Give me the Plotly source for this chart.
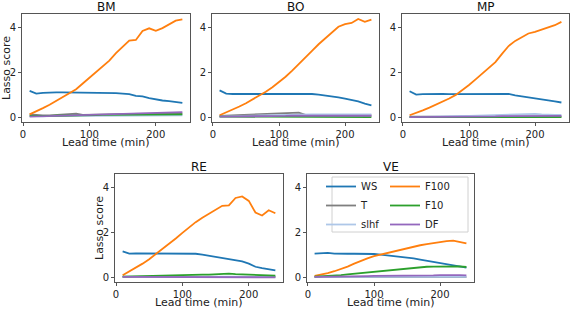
import plotly.graph_objects as go

lead_time = [10, 20, 30, 40, 50, 60, 70, 80, 90, 100, 110, 120, 130, 140, 150, 160, 170, 180, 190, 200, 210, 220, 230, 240]
panels = ["BM", "BO", "MP", "RE", "VE"]
variables = ["WS", "T", "slhf", "F100", "F10", "DF"]
colors = {"WS": "#1f77b4", "T": "#7f7f7f", "slhf": "#aec7e8", "F100": "#ff7f0e", "F10": "#2ca02c", "DF": "#9467bd"}

BM_WS = [1.17, 1.05, 1.08, 1.1, 1.1, 1.1, 1.1, 1.1, 1.1, 1.1, 1.09, 1.08, 1.07, 1.07, 1.05, 1.02, 0.95, 0.92, 0.85, 0.78, 0.74, 0.71, 0.67, 0.63]
BM_T = [0.12, 0.08, 0.07, 0.08, 0.09, 0.1, 0.12, 0.15, 0.1, 0.1, 0.1, 0.11, 0.12, 0.12, 0.13, 0.14, 0.14, 0.15, 0.15, 0.15, 0.15, 0.15, 0.15, 0.15]
BM_slhf = [0.05, 0.03, 0.03, 0.04, 0.05, 0.05, 0.05, 0.06, 0.06, 0.06, 0.06, 0.07, 0.07, 0.07, 0.07, 0.07, 0.07, 0.07, 0.08, 0.08, 0.08, 0.08, 0.08, 0.08]
BM_F100 = [0.12, 0.25, 0.4, 0.55, 0.72, 0.88, 1.05, 1.24, 1.5, 1.76, 2.0, 2.25, 2.52, 2.85, 3.14, 3.41, 3.44, 3.84, 3.96, 3.85, 3.97, 4.15, 4.3, 4.36]
BM_F10 = [0.05, 0.04, 0.04, 0.05, 0.06, 0.06, 0.07, 0.08, 0.08, 0.09, 0.09, 0.1, 0.1, 0.1, 0.1, 0.11, 0.11, 0.12, 0.12, 0.13, 0.12, 0.12, 0.12, 0.12]
BM_DF = [0.02, 0.03, 0.04, 0.05, 0.06, 0.07, 0.08, 0.09, 0.1, 0.1, 0.11, 0.12, 0.13, 0.14, 0.15, 0.16, 0.17, 0.18, 0.19, 0.2, 0.2, 0.21, 0.22, 0.22]

BO_WS = [1.19, 1.05, 1.03, 1.03, 1.04, 1.04, 1.04, 1.04, 1.04, 1.04, 1.04, 1.04, 1.04, 1.04, 1.03, 1.0, 0.97, 0.93, 0.88, 0.82, 0.76, 0.7, 0.6, 0.52]
BO_T = [0.05, 0.06, 0.07, 0.08, 0.09, 0.1, 0.11, 0.12, 0.13, 0.14, 0.15, 0.17, 0.2, 0.1, 0.08, 0.08, 0.08, 0.08, 0.08, 0.08, 0.08, 0.08, 0.08, 0.08]
BO_slhf = [0.03, 0.03, 0.04, 0.05, 0.06, 0.06, 0.07, 0.08, 0.08, 0.09, 0.1, 0.1, 0.11, 0.12, 0.12, 0.12, 0.12, 0.12, 0.12, 0.12, 0.12, 0.12, 0.12, 0.12]
BO_F100 = [0.08, 0.2, 0.33, 0.47, 0.62, 0.78, 0.95, 1.13, 1.33, 1.55, 1.8, 2.07, 2.35, 2.65, 2.95, 3.25, 3.52, 3.78, 4.03, 4.15, 4.2, 4.38, 4.25, 4.35]
BO_F10 = [0.02, 0.02, 0.02, 0.03, 0.03, 0.03, 0.03, 0.03, 0.03, 0.03, 0.03, 0.03, 0.03, 0.0, 0.0, 0.0, 0.0, 0.0, 0.0, 0.0, 0.0, 0.0, 0.0, 0.0]
BO_DF = [0.02, 0.02, 0.03, 0.03, 0.03, 0.04, 0.04, 0.04, 0.05, 0.05, 0.05, 0.06, 0.06, 0.06, 0.06, 0.06, 0.06, 0.06, 0.06, 0.06, 0.06, 0.06, 0.06, 0.06]

MP_WS = [1.15, 1.0, 1.02, 1.03, 1.03, 1.03, 1.02, 1.02, 1.02, 1.02, 1.02, 1.02, 1.03, 1.01, 1.03, 1.03, 0.97, 0.93, 0.9, 0.85, 0.8, 0.75, 0.7, 0.65]
MP_T = [0.02, 0.02, 0.02, 0.02, 0.02, 0.02, 0.02, 0.02, 0.02, 0.02, 0.02, 0.02, 0.02, 0.02, 0.02, 0.02, 0.02, 0.02, 0.02, 0.02, 0.02, 0.02, 0.02, 0.02]
MP_slhf = [0.0, 0.01, 0.01, 0.02, 0.02, 0.03, 0.03, 0.04, 0.05, 0.05, 0.06, 0.07, 0.08, 0.09, 0.1, 0.1, 0.11, 0.13, 0.15, 0.14, 0.12, 0.1, 0.1, 0.1]
MP_F100 = [0.08, 0.18, 0.3, 0.42, 0.55, 0.68, 0.83, 0.99, 1.2, 1.43, 1.68, 1.95, 2.22, 2.45, 2.82, 3.17, 3.4, 3.58, 3.73, 3.8, 3.9, 4.03, 4.1, 4.25]
MP_F10 = [0.0, 0.0, 0.0, 0.0, 0.0, 0.0, 0.0, 0.0, 0.0, 0.0, 0.0, 0.0, 0.0, 0.0, 0.0, 0.0, 0.0, 0.0, 0.0, 0.0, 0.0, 0.0, 0.0, 0.0]
MP_DF = [0.0, 0.0, 0.01, 0.01, 0.01, 0.01, 0.02, 0.02, 0.02, 0.02, 0.03, 0.03, 0.03, 0.03, 0.04, 0.04, 0.04, 0.05, 0.05, 0.05, 0.05, 0.05, 0.05, 0.05]

RE_WS = [1.15, 1.05, 1.06, 1.06, 1.06, 1.06, 1.05, 1.05, 1.05, 1.05, 1.05, 1.04, 1.0, 0.95, 0.9, 0.86, 0.8, 0.76, 0.7, 0.6, 0.46, 0.4, 0.35, 0.3]
RE_T = [0.01, 0.01, 0.01, 0.01, 0.01, 0.01, 0.01, 0.01, 0.01, 0.01, 0.01, 0.01, 0.01, 0.01, 0.01, 0.01, 0.01, 0.01, 0.01, 0.01, 0.01, 0.01, 0.01, 0.01]
RE_slhf = [0.02, 0.02, 0.02, 0.02, 0.02, 0.02, 0.02, 0.02, 0.02, 0.02, 0.02, 0.02, 0.02, 0.02, 0.02, 0.02, 0.02, 0.02, 0.02, 0.02, 0.02, 0.02, 0.02, 0.02]
RE_F100 = [0.08, 0.25, 0.42, 0.6, 0.8, 1.02, 1.25, 1.48, 1.72, 1.97, 2.22, 2.45, 2.65, 2.82, 3.02, 3.18, 3.2, 3.53, 3.6, 3.4, 2.88, 2.75, 2.98, 2.85]
RE_F10 = [0.02, 0.03, 0.04, 0.05, 0.05, 0.06, 0.07, 0.08, 0.09, 0.1, 0.1, 0.1, 0.11, 0.11, 0.13, 0.15, 0.15, 0.13, 0.12, 0.1, 0.08, 0.07, 0.06, 0.06]
RE_DF = [0.01, 0.01, 0.01, 0.01, 0.01, 0.01, 0.01, 0.01, 0.01, 0.01, 0.01, 0.01, 0.01, 0.01, 0.01, 0.01, 0.01, 0.01, 0.01, 0.0, 0.0, 0.0, -0.01, -0.01]

VE_WS = [1.05, 1.08, 1.08, 1.05, 1.03, 1.04, 1.04, 1.04, 1.04, 1.03, 1.0, 0.97, 0.93, 0.9, 0.86, 0.83, 0.78, 0.73, 0.68, 0.63, 0.58, 0.55, 0.5, 0.42]
VE_T = [0.0, 0.0, 0.0, 0.0, 0.0, 0.0, 0.0, 0.0, 0.0, 0.0, 0.0, 0.0, 0.0, 0.0, 0.0, 0.0, 0.0, 0.0, 0.0, 0.0, 0.0, 0.0, 0.0, 0.0]
VE_slhf = [0.01, 0.01, 0.01, 0.01, 0.01, 0.01, 0.01, 0.01, 0.01, 0.01, 0.01, 0.01, 0.01, 0.01, 0.01, 0.01, 0.01, 0.01, 0.01, 0.01, 0.01, 0.01, 0.01, 0.01]
VE_F100 = [0.05, 0.1, 0.18, 0.26, 0.35, 0.47, 0.6, 0.73, 0.83, 0.93, 1.0, 1.08, 1.15, 1.22, 1.3, 1.37, 1.42, 1.47, 1.52, 1.56, 1.6, 1.63, 1.58, 1.5]
VE_F10 = [0.02, 0.03, 0.05, 0.07, 0.09, 0.12, 0.15, 0.18, 0.21, 0.24, 0.27, 0.3, 0.33, 0.36, 0.39, 0.43, 0.45, 0.46, 0.47, 0.48, 0.49, 0.5, 0.48, 0.45]
VE_DF = [0.01, 0.01, 0.02, 0.02, 0.03, 0.03, 0.04, 0.04, 0.04, 0.05, 0.05, 0.05, 0.05, 0.05, 0.06, 0.06, 0.07, 0.07, 0.08, 0.09, 0.1, 0.1, 0.09, 0.08]

data = {
    "BM": [BM_WS, BM_T, BM_slhf, BM_F100, BM_F10, BM_DF],
    "BO": [BO_WS, BO_T, BO_slhf, BO_F100, BO_F10, BO_DF],
    "MP": [MP_WS, MP_T, MP_slhf, MP_F100, MP_F10, MP_DF],
    "RE": [RE_WS, RE_T, RE_slhf, RE_F100, RE_F10, RE_DF],
    "VE": [VE_WS, VE_T, VE_slhf, VE_F100, VE_F10, VE_DF],
}

W, H = 573, 309
# pixel boxes (left, right, top, bottom)
boxes = {
    "BM": (22, 190, 14, 122),
    "BO": (212, 379, 14, 122),
    "MP": (402, 569, 14, 122),
    "RE": (115, 283, 174, 282),
    "VE": (307, 474, 174, 282),
}

FONT = "DejaVu Sans"
fig = go.Figure()
layout = {}
annotations = []
for i, p in enumerate(panels):
    n = i + 1
    xa = "x" if n == 1 else f"x{n}"
    ya = "y" if n == 1 else f"y{n}"
    l, r, t, b = boxes[p]
    for v, vals in zip(variables, data[p]):
        fig.add_trace(go.Scatter(
            x=lead_time, y=vals, mode="lines", name=v,
            line=dict(color=colors[v], width=1.8),
            xaxis=xa, yaxis=ya,
            showlegend=(p == "VE"),
            legend=("legend" if v in ("WS", "T", "slhf") else "legend2"),
        ))
    axstyle = dict(showline=True, mirror=True, linecolor="#555", linewidth=1,
                   ticks="outside", ticklen=3, tickcolor="#555", showgrid=False,
                   zeroline=False, automargin=False,
                   tickfont=dict(family=FONT, size=10, color="#222"))
    layout[f"xaxis{'' if n == 1 else n}"] = dict(
        domain=[l / W, r / W], anchor=ya, range=[-1.5, 251.5],
        tickvals=[0, 100, 200], **axstyle)
    layout[f"yaxis{'' if n == 1 else n}"] = dict(
        domain=[(H - b) / H, (H - t) / H], anchor=xa, range=[-0.22, 4.6],
        tickvals=[0, 2, 4], **axstyle)
    # panel title
    annotations.append(dict(text=p, x=(l + r) / 2 / W, y=(H - (t - 7)) / H, xref="paper", yref="paper",
                            xanchor="center", yanchor="middle", showarrow=False,
                            font=dict(family=FONT, size=12, color="#111")))
    # x-axis title
    annotations.append(dict(text="Lead time (min)", x=(l + r) / 2 / W, y=(H - (b + 20.5)) / H,
                            xref="paper", yref="paper", xanchor="center", yanchor="middle",
                            showarrow=False, font=dict(family=FONT, size=11, color="#222")))
    # y-axis title
    if p in ("BM", "RE"):
        annotations.append(dict(text="Lasso score", x=(l - 16) / W, y=(H - (t + b) / 2) / H,
                                xref="paper", yref="paper", xanchor="center", yanchor="middle",
                                textangle=-90, showarrow=False,
                                font=dict(family=FONT, size=11, color="#222")))

fig.update_layout(
    width=W, height=H, margin=dict(l=0, r=0, t=0, b=0),
    plot_bgcolor="white", paper_bgcolor="white",
    annotations=annotations,
    shapes=[dict(type="rect", xref="paper", yref="paper",
                 x0=332 / W, x1=468 / W, y0=(H - 232) / H, y1=(H - 177) / H,
                 line=dict(color="#d0d0d0", width=1), fillcolor="rgba(255,255,255,0.85)", layer="above")],
    legend=dict(x=321 / W, y=(H - 172) / H, xanchor="left", yanchor="top",
                bgcolor="rgba(0,0,0,0)", borderwidth=0, tracegroupgap=0,
                font=dict(family=FONT, size=10, color="#222")),
    legend2=dict(x=385 / W, y=(H - 172) / H, xanchor="left", yanchor="top",
                 bgcolor="rgba(0,0,0,0)", borderwidth=0, tracegroupgap=0,
                 font=dict(family=FONT, size=10, color="#222")),
    **layout,
)
fig.write_html("out.html", config={"displayModeBar": False},
               post_script="document.body.style.margin='0';document.body.style.overflow='hidden';")
